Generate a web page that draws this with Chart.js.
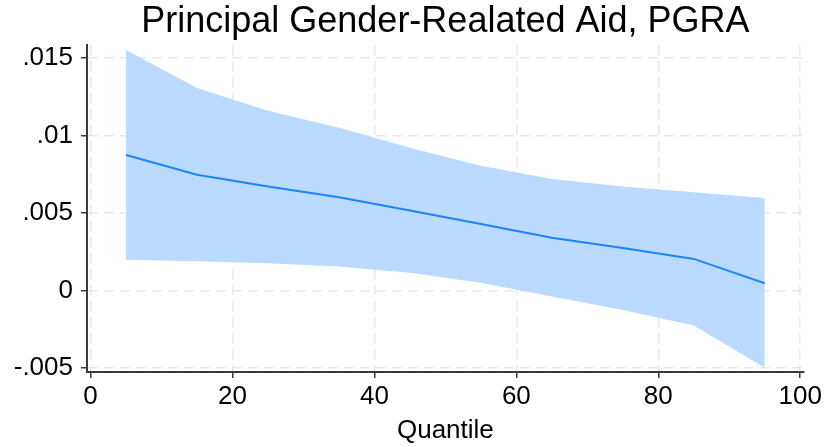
<!DOCTYPE html>
<html>
<head>
<meta charset="utf-8">
<script src="https://cdn.jsdelivr.net/npm/chart.js@4.4.1/dist/chart.umd.min.js"></script>
<style>
  html, body { margin: 0; padding: 0; background: #ffffff; }
  #wrap { width: 825px; height: 447px; }
</style>
</head>
<body>
<div id="wrap"><canvas id="c" width="825" height="447"></canvas></div>
<script>
// ---- data ----
const quantiles = [5, 15, 25, 35, 45, 55, 65, 75, 85, 95];
const coef  = [0.00875, 0.00748, 0.00671, 0.00602, 0.00516, 0.00430, 0.00340, 0.00275, 0.00204, 0.00047];
const upper = [0.01553, 0.01308, 0.01161, 0.01050, 0.00921, 0.00806, 0.00720, 0.00671, 0.00634, 0.00598];
const lower = [0.00198, 0.00189, 0.00176, 0.00155, 0.00114, 0.00050, -0.00039, -0.00125, -0.00226, -0.00499];

const xTicks = [0, 20, 40, 60, 80, 100];
const xTickLabels = ["0", "20", "40", "60", "80", "100"];
const yTicks = [-0.005, 0, 0.005, 0.01, 0.015];
const yTickLabels = ["-.005", "0", ".005", ".01", ".015"];

const titleText = "Principal Gender-Realated Aid, PGRA";
const xTitle = "Quantile";

// ---- styles ----
const FONT = "'Liberation Sans', Arial, Helvetica, sans-serif";
const lineColor = "#1a85ff";
const bandColor = "#badaff";
const axisColor = "#3a3a3a";
const gridColor = "#e9e9e9";

const pts = (arr) => quantiles.map((q, i) => ({ x: q, y: arr[i] }));

Chart.defaults.color = "#000";
Chart.defaults.font.family = FONT;

new Chart(document.getElementById("c"), {
  type: "line",
  data: {
    datasets: [
      {
        label: "Estimate",
        data: pts(coef),
        borderColor: lineColor,
        borderWidth: 2,
        pointRadius: 0,
        fill: false,
        tension: 0
      },
      {
        label: "Upper",
        data: pts(upper),
        borderWidth: 0,
        borderColor: "rgba(0,0,0,0)",
        backgroundColor: bandColor,
        pointRadius: 0,
        fill: "+1",
        tension: 0
      },
      {
        label: "Lower",
        data: pts(lower),
        borderWidth: 0,
        borderColor: "rgba(0,0,0,0)",
        pointRadius: 0,
        fill: false,
        tension: 0
      }
    ]
  },
  options: {
    responsive: false,
    animation: false,
    layout: { padding: { left: 0, right: 21, top: 0, bottom: 0 } },
    plugins: {
      legend: { display: false },
      tooltip: { enabled: false },
      title: {
        display: true,
        text: titleText,
        fullSize: false,
        color: "#000",
        font: { size: 36, weight: "normal", family: FONT, lineHeight: 1.2 },
        padding: { top: 0.5, bottom: 1.3 }
      }
    },
    scales: {
      x: {
        type: "linear",
        min: -0.5,
        max: 100.5,
        afterBuildTicks: (s) => { s.ticks = xTicks.map(v => ({ value: v })); },
        afterFit: (s) => { s.height = 75; },
        ticks: {
          color: "#000",
          font: { size: 26, family: FONT },
          padding: 3,
          maxRotation: 0,
          autoSkip: false,
          callback: (v, i) => xTickLabels[i]
        },
        grid: {
          color: gridColor,
          lineWidth: 1.5,
          drawTicks: true,
          tickLength: 6,
          tickColor: axisColor,
          tickWidth: 1.5
        },
        border: { display: true, color: axisColor, width: 2, dash: [10, 6] },
        title: {
          display: true,
          text: xTitle,
          color: "#000",
          font: { size: 26, family: FONT },
          padding: { top: 2, bottom: 1 }
        }
      },
      y: {
        type: "linear",
        min: -0.00526,
        max: 0.01585,
        afterBuildTicks: (s) => { s.ticks = yTicks.map(v => ({ value: v })); },
        afterFit: (s) => { s.width = 87; },
        ticks: {
          color: "#000",
          font: { size: 26, family: FONT },
          padding: 8,
          autoSkip: false,
          callback: (v, i) => yTickLabels[i]
        },
        grid: {
          color: gridColor,
          lineWidth: 1.5,
          drawTicks: true,
          tickLength: 6,
          tickColor: axisColor,
          tickWidth: 1.5
        },
        border: { display: true, color: axisColor, width: 2, dash: [10, 6] }
      }
    }
  }
});
</script>
</body>
</html>
